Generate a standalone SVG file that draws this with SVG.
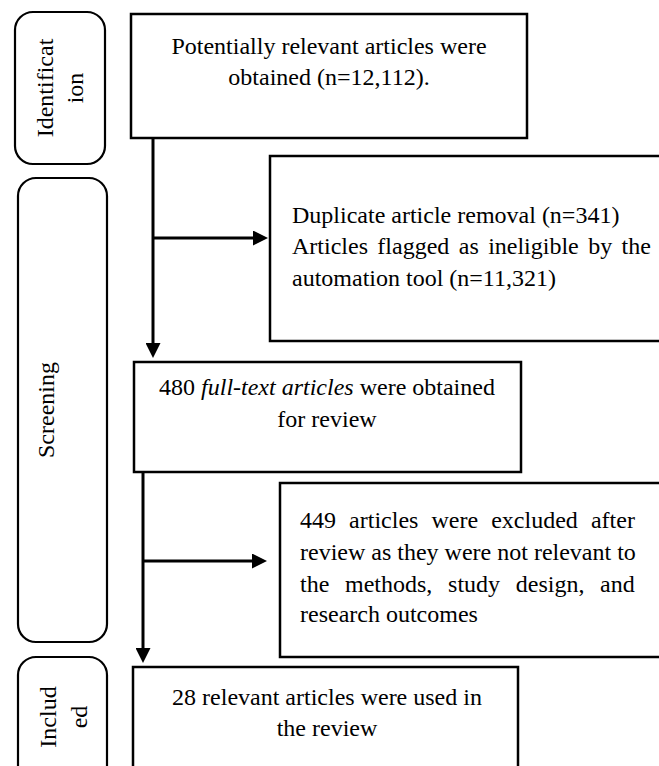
<svg xmlns="http://www.w3.org/2000/svg" width="659" height="766" viewBox="0 0 659 766">
<defs>
<style>
text{font-family:"Liberation Serif","Times New Roman",serif;font-size:24px;fill:#000}
.box{fill:#fff;stroke:#000;stroke-width:2.5}
.rbox{fill:#fff;stroke:#000;stroke-width:2.2}
.c{text-anchor:middle}
.conn{stroke:#000;stroke-width:3;fill:none}
</style>
<marker id="ah" viewBox="0 0 15 15" refX="0" refY="7.5" markerWidth="15" markerHeight="15" markerUnits="userSpaceOnUse" orient="auto">
<path d="M0,0 L15,7.5 L0,15 Z" fill="#000"/>
</marker>
</defs>
<rect width="659" height="766" fill="#fff"/>

<g id="stage-identification">
<rect class="rbox" x="15" y="12" width="90" height="152" rx="18"/>
<text class="c" transform="translate(53,88) rotate(-90)">Identificat</text>
<text class="c" transform="translate(83,88) rotate(-90)">ion</text>
</g>
<g id="stage-screening">
<rect class="rbox" x="18" y="178" width="89" height="464" rx="18"/>
<text class="c" transform="translate(54,410) rotate(-90)">Screening</text>
</g>
<g id="stage-included">
<rect class="rbox" x="18" y="657" width="89" height="160" rx="18"/>
<text class="c" transform="translate(56,717) rotate(-90)">Includ</text>
<text class="c" transform="translate(87,717) rotate(-90)">ed</text>
</g>

<g id="node-obtained">
<rect class="box" x="131" y="14" width="396" height="124"/>
<text class="c" x="329" y="54">Potentially relevant articles were</text>
<text class="c" x="329" y="85">obtained (n=12,112).</text>
</g>
<g id="node-removed">
<rect class="box" x="270" y="156" width="420" height="185"/>
<text x="292" y="223">Duplicate article removal (n=341)</text>
<text x="292" y="254" word-spacing="3.4">Articles flagged as ineligible by the</text>
<text x="292" y="286">automation tool (n=11,321)</text>
</g>
<g id="node-fulltext">
<rect class="box" x="134" y="362" width="387" height="110"/>
<text class="c" x="327" y="395">480 <tspan font-style="italic">full-text articles</tspan> were obtained</text>
<text class="c" x="327" y="427">for review</text>
</g>
<g id="node-excluded">
<rect class="box" x="280" y="483" width="420" height="174"/>
<text x="300" y="528" word-spacing="7.1">449 articles were excluded after</text>
<text x="300" y="560">review as they were not relevant to</text>
<text x="300" y="592" word-spacing="9.7">the methods, study design, and</text>
<text x="300" y="622">research outcomes</text>
</g>
<g id="node-included">
<rect class="box" x="133" y="667" width="385" height="140"/>
<text class="c" x="327" y="705">28 relevant articles were used in</text>
<text class="c" x="327" y="736">the review</text>
</g>

<g id="connectors">
<line class="conn" x1="153" y1="138" x2="153" y2="343" marker-end="url(#ah)"/>
<line class="conn" x1="153" y1="238" x2="253" y2="238" marker-end="url(#ah)"/>
<line class="conn" x1="143" y1="472" x2="143" y2="648" marker-end="url(#ah)"/>
<line class="conn" x1="143" y1="561" x2="252" y2="561" marker-end="url(#ah)"/>
</g>
</svg>
